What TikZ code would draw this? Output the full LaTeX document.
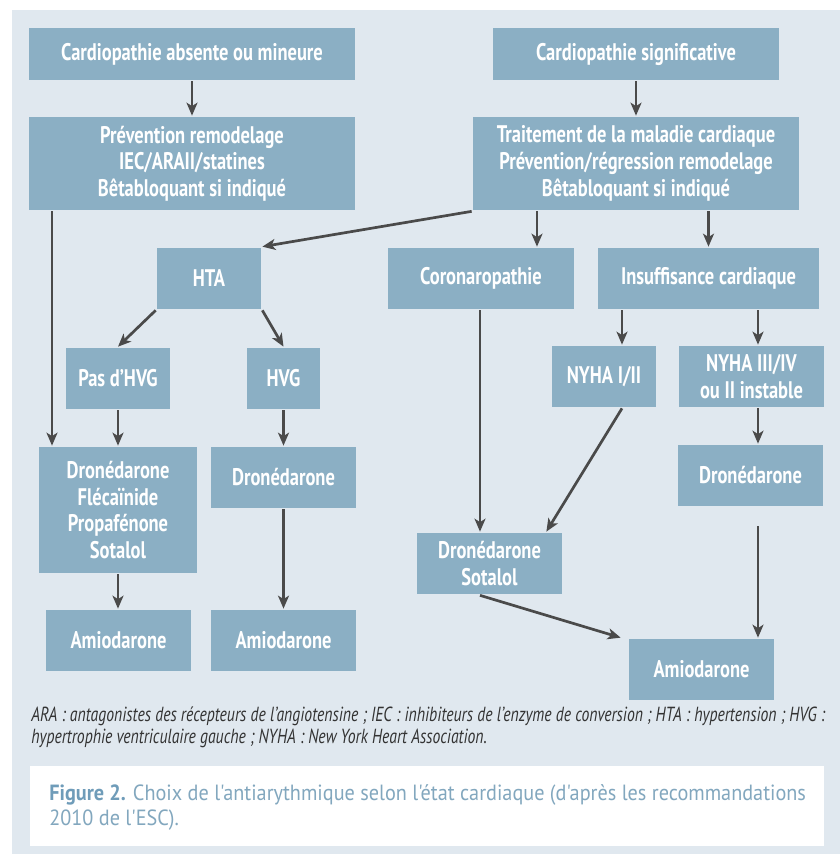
\documentclass[tikz,border=0pt]{standalone}
\usepackage{fontspec}
\setmainfont{PT Sans}[FakeStretch=0.77]
\newfontfamily\capfont{PT Sans}[FakeStretch=0.92]
\usetikzlibrary{arrows.meta}

\definecolor{panel}{HTML}{E0E8EF}
\definecolor{boxfill}{HTML}{8BAFC4}
\definecolor{arrowgray}{HTML}{4A4A4A}
\definecolor{figblue}{HTML}{6F9CB9}
\definecolor{captext}{HTML}{82A7BE}
\newcommand\sq{\char"0027\relax}

\begin{document}
\begin{tikzpicture}[x=1pt,y=-1pt,->,>={Stealth[length=13pt,width=11pt,inset=3.5pt]},
  line width=2.7pt,
  box/.style={rectangle,fill=boxfill,text=white,inner sep=0pt,align=center,
    font=\bfseries\fontsize{24}{26.7}\selectfont}]
  \useasboundingbox (0,0) rectangle (840,854);
  \fill[panel] (12,10) rectangle (840,854);

  \node[box, minimum width=326pt, minimum height=52pt] (absente) at (192,54) {Cardiopathie absente ou mineure};
  \node[box, minimum width=286pt, minimum height=52pt] (signif) at (636,54) {Cardiopathie significative};
  \node[box, minimum width=326pt, minimum height=93pt] (prev) at (192,163.5) {Prévention remodelage\\IEC/ARAII/statines\\Bêtabloquant si indiqué};
  \node[box, minimum width=326pt, minimum height=93pt] (trait) at (636,163.5) {Traitement de la maladie cardiaque\\Prévention/régression remodelage\\Bêtabloquant si indiqué};
  \node[box, minimum width=104pt, minimum height=61pt] (hta) at (209,278.5) {HTA};
  \node[box, minimum width=186pt, minimum height=61pt] (coro) at (481,278.5) {Coronaropathie};
  \node[box, minimum width=221pt, minimum height=61pt] (insuf) at (708.5,278.5) {Insuffisance cardiaque};
  \node[box, minimum width=104pt, minimum height=61pt] (pashvg) at (118,378.5) {Pas d’HVG};
  \node[box, minimum width=73pt, minimum height=61pt] (hvg) at (283.5,378.5) {HVG};
  \node[box, minimum width=104pt, minimum height=61pt] (nyhaA) at (604,376.5) {NYHA I/II};
  \node[box, minimum width=145pt, minimum height=61pt] (nyhaB) at (751.5,376.5) {NYHA III/IV\\ou II instable};
  \node[box, minimum width=158pt, minimum height=126pt] (droneL) at (118,510) {Dronédarone\\Flécaïnide\\Propafénone\\Sotalol};
  \node[box, minimum width=145pt, minimum height=61pt] (droneM) at (283.5,477.5) {Dronédarone};
  \node[box, minimum width=145pt, minimum height=61pt] (droneR) at (750.5,475.5) {Dronédarone};
  \node[box, minimum width=145pt, minimum height=61pt] (droneS) at (489.5,563.5) {Dronédarone\\Sotalol};
  \node[box, minimum width=145pt, minimum height=61pt] (amioL) at (118.5,640.5) {Amiodarone};
  \node[box, minimum width=145pt, minimum height=61pt] (amioM) at (283.5,640.5) {Amiodarone};
  \node[box, minimum width=145pt, minimum height=61pt] (amioR) at (701.5,669.5) {Amiodarone};

  % where the lines leave or meet the boxes
  \coordinate (xL) at (52,0);
  \coordinate (xC) at (537,0);
  \coordinate (xA) at (622,0);
  \coordinate (xB) at (758,0);
  \coordinate (xS) at (480,0);
  \coordinate (rgap) at (758,526);

  \path[arrowgray]
    (absente) edge (prev)
    (signif) edge (trait)
    (prev.south -| xL) edge (droneL.north -| xL)
    (trait.south west) edge (hta.north east)
    (trait.south -| xC) edge (coro.north -| xC)
    (trait.south -| insuf.north) edge (insuf.north)
    (hta.south west) edge (pashvg.north)
    (hta.south east) edge (hvg.north)
    (pashvg.south) edge (droneL.north -| pashvg.south)
    (hvg.south) edge (droneM.north)
    (insuf.south -| xA) edge (nyhaA.north -| xA)
    (insuf.south -| xB) edge (nyhaB.north -| xB)
    (coro.south -| xS) edge (droneS.north -| xS)
    (nyhaA.south -| xA) edge ([xshift=-17pt]droneS.north east)
    (nyhaB.south -| xB) edge (droneR.north -| xB)
    (droneL.south) edge (amioL.north -| droneL.south)
    (droneM.south) edge (amioM.north)
    (rgap) edge (amioR.north -| xB)
    (droneS.south -| xS) edge ([xshift=-7pt]amioR.north west);

  \node[anchor=north west, align=left, inner sep=0pt, text=black!80,
    font=\itshape\fontsize{20.4}{22}\selectfont] (legende) at (30,705)
    {ARA : antagonistes des récepteurs de l’angiotensine ; IEC : inhibiteurs de l’enzyme de conversion ; HTA : hypertension ; HVG :\\
     hypertrophie ventriculaire gauche ; NYHA : New York Heart Association.};

  \fill[white] (30,766) rectangle (824,846);
  \node[anchor=north west, align=left, inner sep=0pt, text=captext,
    font=\capfont\fontsize{22}{25}\selectfont] (titre) at (48,783)
    {{\bfseries\color{figblue}Figure 2.} Choix de l\sq antiarythmique selon l\sq état cardiaque (d\sq après les recommandations\\
     2010 de l\sq ESC).};
\end{tikzpicture}
\end{document}
